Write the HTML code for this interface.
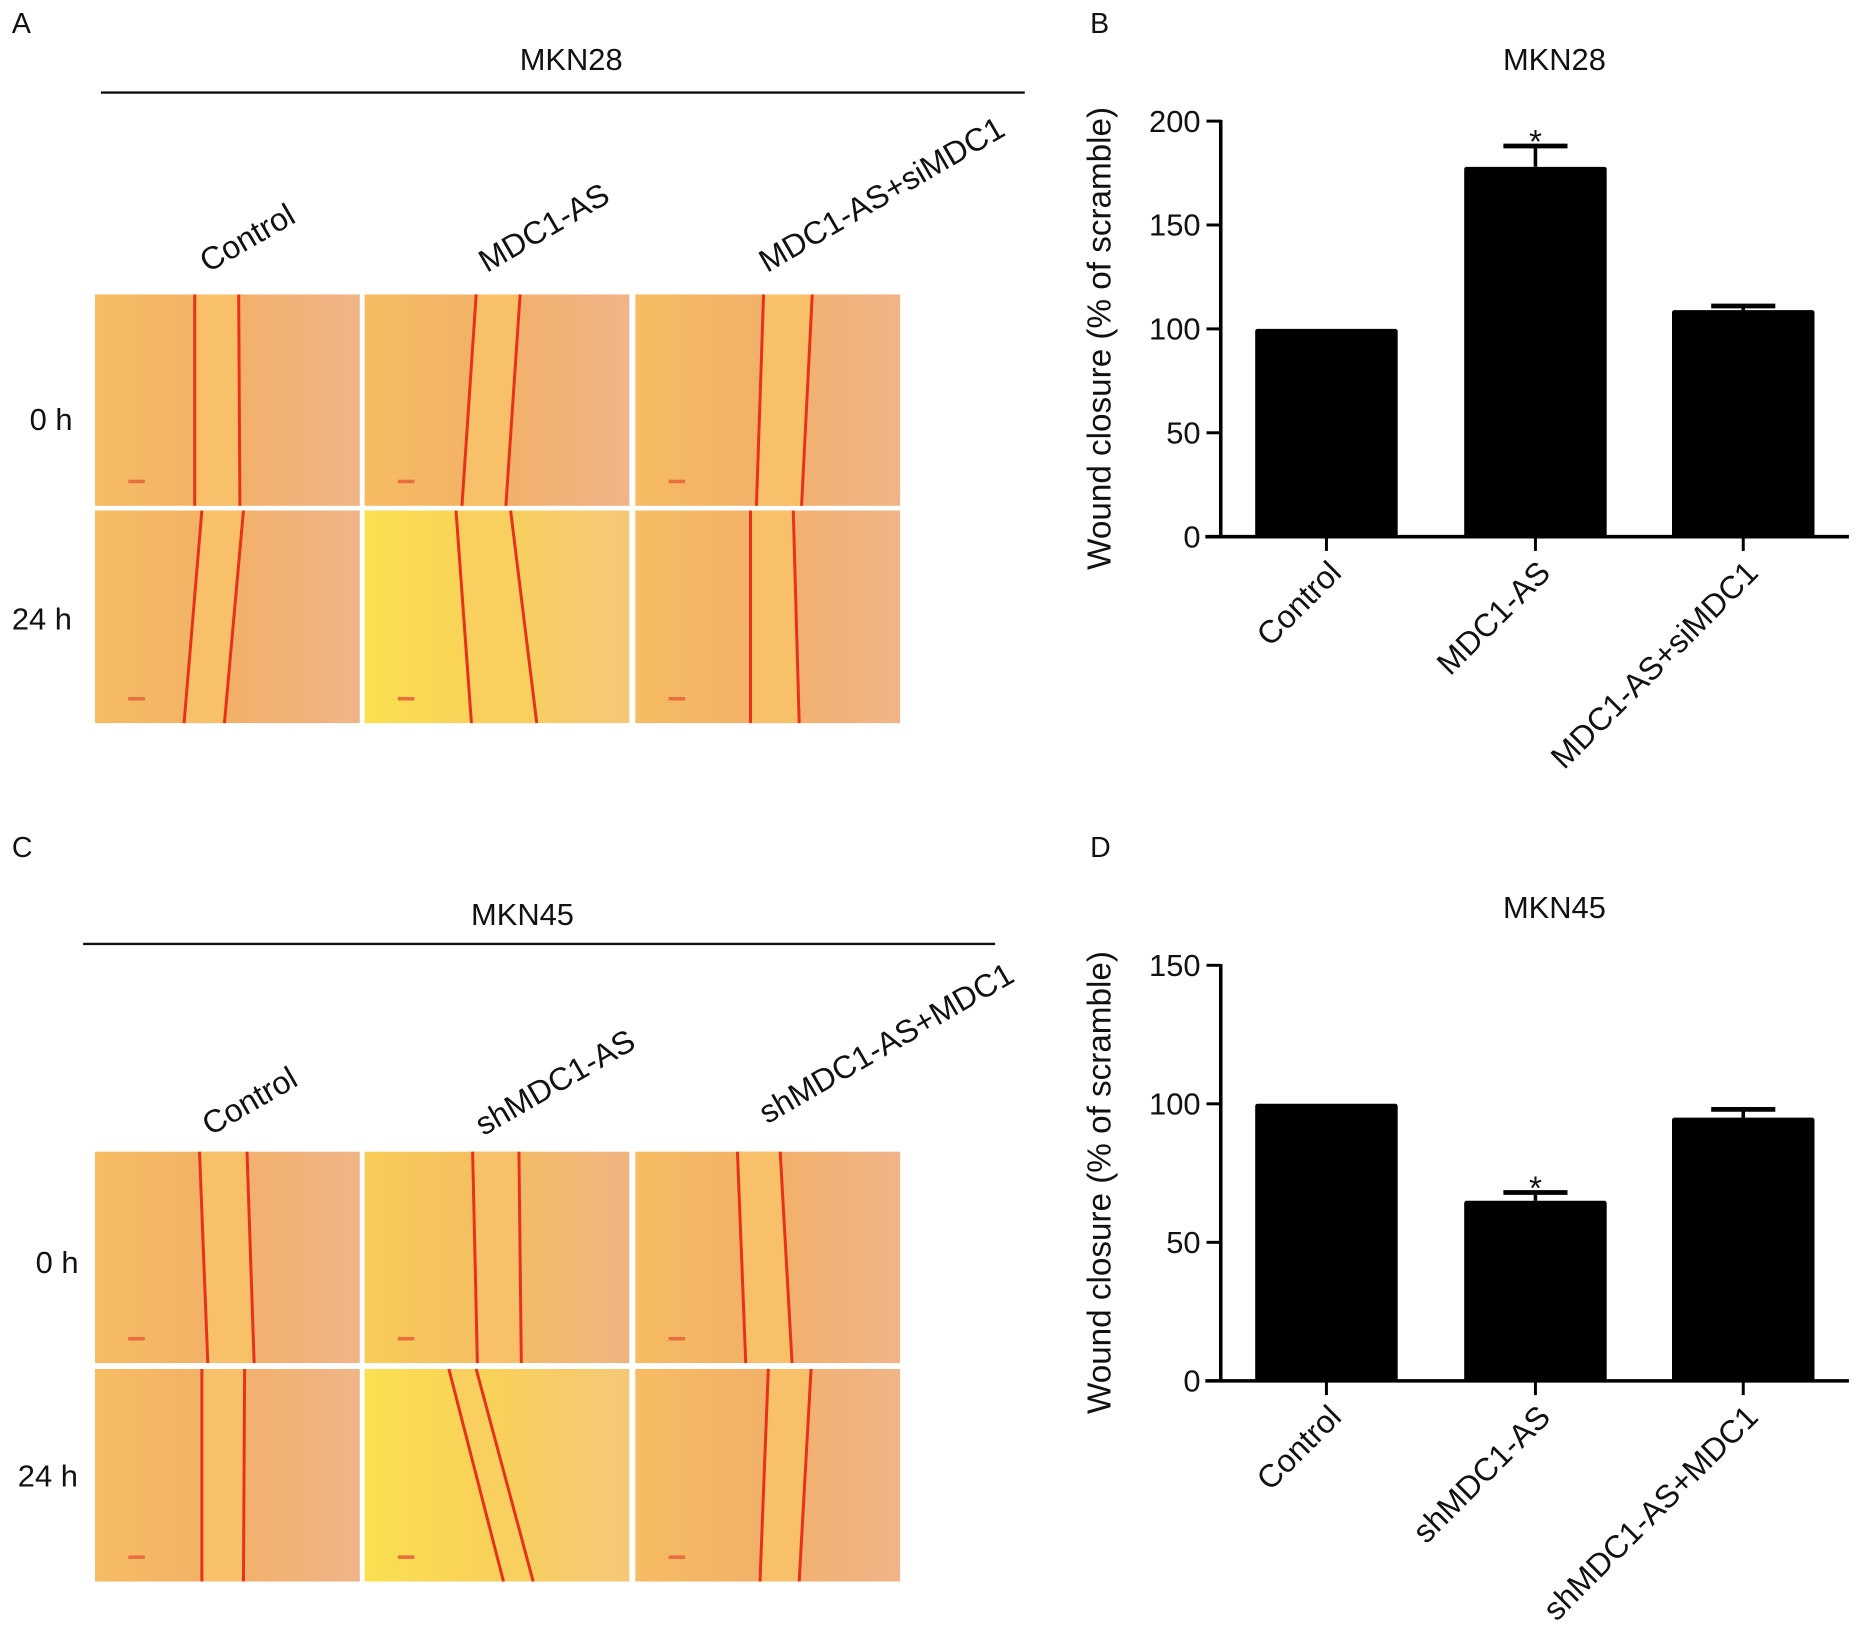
<!DOCTYPE html>
<html><head><meta charset="utf-8"><style>
html,body{margin:0;padding:0;background:#fff;}
svg{display:block;font-family:"Liberation Sans",Arial,sans-serif;}
</style></head><body>
<svg id="fig" width="1862" height="1648" viewBox="0 0 1568 1388" preserveAspectRatio="none" xmlns="http://www.w3.org/2000/svg">
<defs>
<linearGradient id="gOr" x1="0" x2="1" y1="0" y2="0"><stop offset="0" stop-color="#f6bc62"/><stop offset="0.5" stop-color="#f2b068"/><stop offset="1" stop-color="#f0b488"/></linearGradient>
<linearGradient id="gYe" x1="0" x2="1" y1="0" y2="0"><stop offset="0" stop-color="#fbe050"/><stop offset="0.5" stop-color="#f8d05a"/><stop offset="1" stop-color="#f5c878"/></linearGradient>
<linearGradient id="gYe2" x1="0" x2="1" y1="0" y2="0"><stop offset="0" stop-color="#f8cc58"/><stop offset="0.5" stop-color="#f4bc62"/><stop offset="1" stop-color="#f0b482"/></linearGradient>
</defs>
<g id="texts" font-size="24" fill="#111">
<text x="10" y="28">A</text>
<text x="918" y="28">B</text>
<text x="10" y="722">C</text>
<text x="918" y="722">D</text>
<text x="481" y="59" text-anchor="middle" font-size="26">MKN28</text>
<line x1="85" y1="78" x2="863" y2="78" stroke="#111" stroke-width="2"/>
<text x="440" y="779" text-anchor="middle" font-size="26">MKN45</text>
<line x1="70" y1="795" x2="838" y2="795" stroke="#111" stroke-width="2"/>
<text transform="translate(175,230) rotate(-30)" font-size="27">Control</text>
<text transform="translate(410,230) rotate(-30)" font-size="27">MDC1-AS</text>
<text transform="translate(646,230) rotate(-30)" font-size="27">MDC1-AS+siMDC1</text>
<text transform="translate(177,957) rotate(-30)" font-size="27">Control</text>
<text transform="translate(407,957) rotate(-30)" font-size="27">shMDC1-AS</text>
<text transform="translate(646,947) rotate(-30)" font-size="27">shMDC1-AS+MDC1</text>
<text x="25" y="362" font-size="26">0 h</text>
<text x="10" y="530" font-size="26">24 h</text>
<text x="30" y="1072" font-size="26">0 h</text>
<text x="15" y="1252" font-size="26">24 h</text>
</g>
<g id="micro"></g>
<g id="chartB"></g>
<g id="chartD"></g>
</svg>
<script>
var NS="http://www.w3.org/2000/svg";
function mk(tag,attrs,parent){var e=document.createElementNS(NS,tag);for(var k in attrs)e.setAttribute(k,attrs[k]);parent.appendChild(e);return e;}

var cols=[80,307,535];
var micro=document.getElementById('micro');
var panelsM=[
 {y:248,h:178,lines:[[164,164,201,202],[401,389,438,426],[643,637,684,675]],fills:['gOr','gOr','gOr'],name:'a-0h'},
 {y:430,h:179,lines:[[170,155,205,189],[384,397,430,452],[632,632,668,673]],fills:['gOr','gYe','gOr'],name:'a-24h'},
 {y:970,h:178,lines:[[168,175,208,214],[398,402,437,439],[621,628,657,667]],fills:['gOr','gYe2','gOr'],name:'c-0h'},
 {y:1153,h:179,lines:[[170,170,206,205],[378,424,401,449],[647,640,683,673]],fills:['gOr','gYe','gOr'],name:'c-24h'}
];
panelsM.forEach(function(p){
 cols.forEach(function(cx,i){
  var r=mk('rect',{x:cx,y:p.y,width:223,height:p.h,fill:'url(#'+p.fills[i]+')'},micro);
  
  
  var L=p.lines[i];
  var gap=mk('polygon',{points:L[0]+','+p.y+' '+L[2]+','+p.y+' '+L[3]+','+(p.y+p.h)+' '+L[1]+','+(p.y+p.h),fill:p.fills[i]==='gYe'?'#f9d060':'#f8c068'},micro);
  
  
  var l1=mk('line',{x1:L[0],y1:p.y,x2:L[1],y2:p.y+p.h,stroke:'#e8301a','stroke-width':2.5},micro);
  
  
  var l2=mk('line',{x1:L[2],y1:p.y,x2:L[3],y2:p.y+p.h,stroke:'#e8301a','stroke-width':2.5},micro);
  
  
  var sb=mk('rect',{x:cx+28,y:p.y+p.h-22,width:14,height:3,fill:'#e87040'},micro);
  
  
 });
});

var catsB=["Control","MDC1-AS","MDC1-AS+siMDC1"];
var valsB=[100,178,109];
var errsB=[0,10,2];
var sigB=[false,true,false];
var ticksB=[0,50,100,150,200];

var catsD=["Control","shMDC1-AS","shMDC1-AS+MDC1"];
var valsD=[100,65,95];
var errsD=[0,3,3];
var sigD=[false,true,false];
var ticksD=[0,50,100,150];

function drawChart(g,cats,vals,errs,sig,ticks,o){
 var ymax=ticks[ticks.length-1];
 function Y(v){return o.y0-(v/ymax)*(o.y0-o.y1);}
 var centers=[1117,1293,1468];
 var bw=120;
 var t=mk('text',{x:1309,y:o.titleY,'text-anchor':'middle','font-size':26,fill:'#111'},g);
 t.textContent=o.title;
 
 
 var yl=mk('text',{transform:'translate(935,'+((o.y0+o.y1)/2+8)+') rotate(-90)','text-anchor':'middle','font-size':28,fill:'#111'},g);
 yl.textContent='Wound closure (% of scramble)';
 
 
 cats.forEach(function(c,i){
  var cx=centers[i];
  var b=mk('rect',{x:cx-bw/2,y:Y(vals[i]),width:bw,height:o.y0-Y(vals[i]),fill:'#000',rx:2},g);
  
  
  if(errs[i]>0){
   var e1=mk('line',{x1:cx,y1:Y(vals[i]),x2:cx,y2:Y(vals[i]+errs[i]),stroke:'#000','stroke-width':3},g);
   
   
   var e2=mk('line',{x1:cx-27,y1:Y(vals[i]+errs[i]),x2:cx+27,y2:Y(vals[i]+errs[i]),stroke:'#000','stroke-width':4},g);
   
   
  }
  if(sig[i]){
   var s=mk('text',{x:cx,y:Y(vals[i]+errs[i])+6,'text-anchor':'middle','font-size':28,fill:'#111'},g);
   s.textContent='*';
   
   
  }
  var tk=mk('line',{x1:cx,y1:o.y0,x2:cx,y2:o.y0+12,stroke:'#000','stroke-width':2.5},g);
  
  
  var lb=mk('text',{transform:'translate('+(cx+14)+','+(o.y0+32)+') rotate(-45)','text-anchor':'end','font-size':27,fill:'#111'},g);
  lb.textContent=c;
  
  
 });
 var ya=mk('line',{x1:1028,y1:o.y1-1,x2:1028,y2:o.y0+1,stroke:'#000','stroke-width':3},g);
 
 
 var xa=mk('line',{x1:1015,y1:o.y0,x2:1557,y2:o.y0,stroke:'#000','stroke-width':3},g);
 
 
 ticks.forEach(function(v){
  var tl=mk('line',{x1:1016,y1:Y(v),x2:1028,y2:Y(v),stroke:'#000','stroke-width':2.5},g);
  
  
  var tt=mk('text',{x:1011,y:Y(v)+9,'text-anchor':'end','font-size':26,fill:'#111'},g);
  tt.textContent=v;
  
  
 });
}
drawChart(document.getElementById('chartB'),catsB,valsB,errsB,sigB,ticksB,{y0:452,y1:102,title:'MKN28',titleY:59});
drawChart(document.getElementById('chartD'),catsD,valsD,errsD,sigD,ticksD,{y0:1163,y1:813,title:'MKN45',titleY:773});
</script>
</body></html>
